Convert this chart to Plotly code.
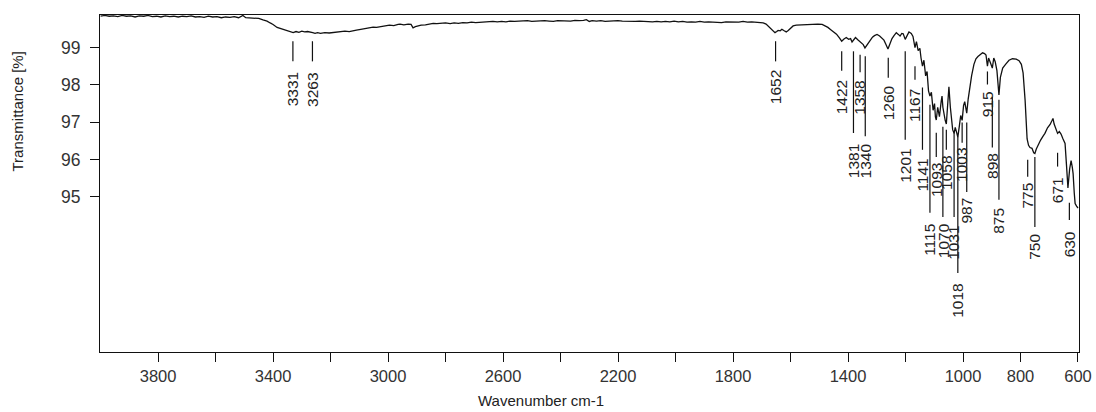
import plotly.graph_objects as go

# ---------------- data ----------------
wavenumber = [
    4000, 3985, 3970, 3955, 3940, 3925, 3910, 3895, 3880, 3865, 3850, 3835, 3820, 3805, 3790, 3775,
    3760, 3745, 3730, 3715, 3700, 3685, 3670, 3655, 3640, 3625, 3610, 3595, 3580, 3565, 3550, 3535,
    3520, 3505, 3495, 3480, 3465, 3450, 3435, 3421, 3410, 3400, 3386, 3370, 3360, 3351, 3340, 3330,
    3320, 3310, 3300, 3290, 3280, 3271, 3262, 3254, 3245, 3235, 3220, 3205, 3191, 3180, 3165, 3150,
    3135, 3122, 3110, 3095, 3080, 3065, 3052, 3040, 3025, 3010, 2995, 2980, 2965, 2958, 2945, 2930,
    2920, 2913, 2905, 2895, 2885, 2870, 2855, 2843, 2830, 2815, 2800, 2784, 2770, 2755, 2740, 2725,
    2710, 2695, 2680, 2665, 2650, 2635, 2620, 2605, 2590, 2575, 2560, 2545, 2530, 2515, 2500, 2485,
    2470, 2455, 2440, 2425, 2410, 2395, 2380, 2365, 2350, 2335, 2320, 2310, 2300, 2290, 2275, 2260,
    2245, 2230, 2215, 2200, 2185, 2170, 2155, 2140, 2125, 2110, 2095, 2080, 2065, 2050, 2035, 2020,
    2005, 1990, 1975, 1960, 1945, 1930, 1915, 1900, 1885, 1870, 1855, 1840, 1825, 1810, 1795, 1780,
    1765, 1750, 1735, 1720, 1706, 1695, 1685, 1678, 1668, 1660, 1654, 1648, 1643, 1636, 1630, 1622,
    1615, 1608, 1600, 1591, 1580, 1565, 1550, 1535, 1520, 1505, 1490, 1480, 1470, 1460, 1450, 1440,
    1430, 1422, 1414, 1406, 1398, 1391, 1386, 1380, 1374, 1366, 1360, 1354, 1347, 1341, 1335, 1328,
    1322, 1315, 1308, 1299, 1290, 1282, 1275, 1268, 1261, 1254, 1247, 1240, 1232, 1226, 1219, 1213,
    1208, 1201, 1195, 1188, 1180, 1174, 1167, 1162, 1156, 1150, 1146, 1141, 1136, 1130, 1125, 1120,
    1115, 1110, 1104, 1099, 1096, 1093, 1088, 1082, 1076, 1073, 1070, 1066, 1062, 1058, 1054, 1049,
    1044, 1040, 1036, 1031, 1027, 1022, 1018, 1013, 1008, 1003, 998, 994, 990, 987, 982, 976,
    970, 962, 955, 948, 940, 932, 925, 920, 915, 911, 905, 898, 893, 888, 882, 875,
    870, 862, 852, 840, 828, 815, 805, 797, 791, 784, 777, 772, 767, 760, 754, 750,
    745, 738, 730, 722, 715, 706, 697, 690, 687, 683, 678, 671, 665, 659, 652, 645,
    640, 635, 629, 624, 620, 617, 613, 610, 605, 600,
]
transmittance = [
    99.84, 99.86, 99.84, 99.85, 99.83, 99.86, 99.84, 99.85, 99.82, 99.85, 99.84, 99.86, 99.83, 99.84, 99.82, 99.85,
    99.83, 99.84, 99.82, 99.84, 99.83, 99.85, 99.82, 99.83, 99.81, 99.84, 99.82, 99.83, 99.80, 99.82, 99.81, 99.83,
    99.80, 99.86, 99.80, 99.79, 99.77, 99.78, 99.74, 99.71, 99.66, 99.62, 99.54, 99.50, 99.46, 99.44, 99.43, 99.40,
    99.43, 99.41, 99.44, 99.42, 99.43, 99.42, 99.40, 99.38, 99.40, 99.38, 99.40, 99.39, 99.40, 99.41, 99.42, 99.44,
    99.43, 99.46, 99.47, 99.49, 99.51, 99.53, 99.55, 99.54, 99.57, 99.58, 99.60, 99.59, 99.62, 99.63, 99.61, 99.63,
    99.62, 99.53, 99.56, 99.59, 99.60, 99.61, 99.63, 99.65, 99.64, 99.65, 99.66, 99.64, 99.66, 99.65, 99.67, 99.66,
    99.68, 99.67, 99.68, 99.69, 99.68, 99.70, 99.69, 99.70, 99.69, 99.71, 99.70, 99.71, 99.70, 99.72, 99.70, 99.71,
    99.70, 99.72, 99.71, 99.70, 99.72, 99.71, 99.72, 99.71, 99.73, 99.72, 99.73, 99.75, 99.70, 99.72, 99.71, 99.72,
    99.70, 99.71, 99.70, 99.72, 99.71, 99.70, 99.71, 99.70, 99.71, 99.70, 99.71, 99.69, 99.70, 99.69, 99.70, 99.69,
    99.71, 99.69, 99.70, 99.68, 99.69, 99.68, 99.70, 99.68, 99.69, 99.68, 99.69, 99.67, 99.69, 99.68, 99.69, 99.68,
    99.70, 99.68, 99.69, 99.68, 99.68, 99.66, 99.63, 99.58, 99.50, 99.44, 99.40, 99.43, 99.46, 99.45, 99.49, 99.45,
    99.42, 99.46, 99.52, 99.58, 99.60, 99.61, 99.62, 99.63, 99.62, 99.63, 99.62, 99.59, 99.54, 99.48, 99.42, 99.36,
    99.26, 99.17, 99.23, 99.27, 99.22, 99.24, 99.15, 99.20, 99.27, 99.21, 99.16, 99.12, 99.08, 98.99, 99.06, 99.15,
    99.23, 99.28, 99.32, 99.35, 99.31, 99.26, 99.20, 99.08, 98.96, 99.10, 99.24, 99.32, 99.40, 99.36, 99.31, 99.38,
    99.37, 99.22, 99.33, 99.42, 99.38, 99.30, 99.00, 99.16, 98.92, 98.98, 98.72, 98.50, 98.66, 98.24, 98.36, 97.84,
    97.70, 97.80, 97.32, 97.50, 97.14, 97.06, 97.40, 97.15, 97.55, 97.70, 97.40, 97.20, 97.05, 96.95, 97.45, 97.95,
    97.40, 96.97, 96.80, 96.70, 96.86, 96.72, 96.60, 96.88, 97.18, 97.05, 97.45, 97.55, 97.35, 97.24, 97.62, 97.98,
    98.25, 98.55, 98.70, 98.76, 98.82, 98.86, 98.84, 98.80, 98.50, 98.72, 98.60, 98.45, 98.72, 98.62, 98.38, 97.73,
    98.20, 98.45, 98.55, 98.66, 98.70, 98.69, 98.65, 98.55, 98.32, 97.59, 96.55, 96.38, 96.32, 96.30, 96.18, 96.16,
    96.28, 96.40, 96.52, 96.62, 96.70, 96.85, 96.94, 97.05, 97.10, 96.95, 96.85, 96.70, 96.75, 96.68, 96.55, 96.43,
    95.85, 95.24, 95.75, 95.97, 95.80, 95.62, 95.10, 94.82, 94.75, 94.70,
]

# peak labels
peak_labels = [3331, 3263, 1652, 1422, 1381, 1358, 1340, 1260, 1201, 1167, 1141, 1115, 1093,
               1070, 1058, 1031, 1018, 1003, 987, 915, 898, 875, 775, 750, 671, 630]

# leader-line layout of each peak label (in transmittance units)
leader_top = [99.17, 99.17, 99.17, 98.90, 98.90, 98.81, 98.77, 98.73, 98.90, 98.50, 97.93, 97.47, 96.72,
              96.88, 96.80, 96.72, 96.61, 96.99, 96.99, 98.36, 97.68, 97.60, 95.99, 96.07, 96.18, 94.84]
leader_bottom = [98.63, 98.63, 98.63, 98.38, 96.71, 98.34, 96.62, 98.19, 96.53, 98.14, 96.26, 94.57, 96.07,
                 94.46, 96.26, 94.46, 92.96, 96.45, 95.13, 98.01, 96.32, 94.92, 95.54, 94.19, 95.81, 94.38]
text_top = [98.36, 98.36, 98.41, 98.14, 96.45, 98.14, 96.45, 98.01, 96.32, 97.93, 96.05, 94.30, 95.94,
            94.33, 96.13, 94.25, 92.69, 96.34, 95.00, 97.87, 96.21, 94.73, 95.40, 94.03, 95.54, 94.11]

x_tickvals = [3800, 3600, 3400, 3200, 3000, 2800, 2600, 2400, 2200, 2000, 1800, 1600, 1400, 1200, 1000, 800, 600]
x_ticktext = ["3800", "", "3400", "", "3000", "", "2600", "", "2200", "", "1800", "", "1400", "", "1000", "800", "600"]
y_tickvals = [95, 96, 97, 98, 99]
y_ticktext = ["95", "96", "97", "98", "99"]

FONT = "Arial, 'Liberation Sans', sans-serif"

fig = go.Figure()
fig.add_trace(go.Scatter(
    x=wavenumber, y=transmittance, mode="lines",
    line=dict(color="#111111", width=1.3), hoverinfo="skip", showlegend=False,
))

shapes = []
annotations = []
for wn, lt, lb, tt in zip(peak_labels, leader_top, leader_bottom, text_top):
    shapes.append(dict(type="line", xref="x", yref="y", x0=wn, x1=wn, y0=lt, y1=lb,
                       line=dict(color="#111111", width=1.2)))
    annotations.append(dict(x=wn, y=tt, xref="x", yref="y", text=str(wn), showarrow=False,
                            textangle=-90, xanchor="center", yanchor="top", borderpad=0,
                            font=dict(family=FONT, size=15.5, color="#222222")))

annotations.append(dict(x=-0.084, y=0.713, xref="paper", yref="paper", text="Transmittance [%]",
                        showarrow=False, textangle=-90, xanchor="center", yanchor="middle",
                        font=dict(family=FONT, size=15, color="#222222")))
annotations.append(dict(x=0.4505, y=-0.143, xref="paper", yref="paper", text="Wavenumber cm-1",
                        showarrow=False, xanchor="center", yanchor="middle",
                        font=dict(family=FONT, size=15, color="#222222")))

fig.update_layout(
    width=1096, height=412,
    margin=dict(l=100, r=17, t=15, b=60, autoexpand=False),
    paper_bgcolor="white", plot_bgcolor="white",
    shapes=shapes, annotations=annotations,
    xaxis=dict(range=[4002, 596.5], tickvals=x_tickvals, ticktext=x_ticktext,
               ticks="outside", ticklen=9, tickcolor="#111111", tickwidth=1,
               showline=True, linecolor="#111111", linewidth=1, mirror=True,
               showgrid=False, zeroline=False, automargin=False,
               tickfont=dict(family=FONT, size=16.5, color="#333333")),
    yaxis=dict(range=[90.84, 99.873], tickvals=y_tickvals, ticktext=y_ticktext,
               ticks="outside", ticklen=9, tickcolor="#111111", tickwidth=1,
               showline=True, linecolor="#111111", linewidth=1, mirror=True,
               showgrid=False, zeroline=False, automargin=False, ticklabelstandoff=6,
               tickfont=dict(family=FONT, size=17.5, color="#333333")),
)

fig.write_html("out.html", config={"displayModeBar": False},
               post_script="document.body.style.margin='0px';")
